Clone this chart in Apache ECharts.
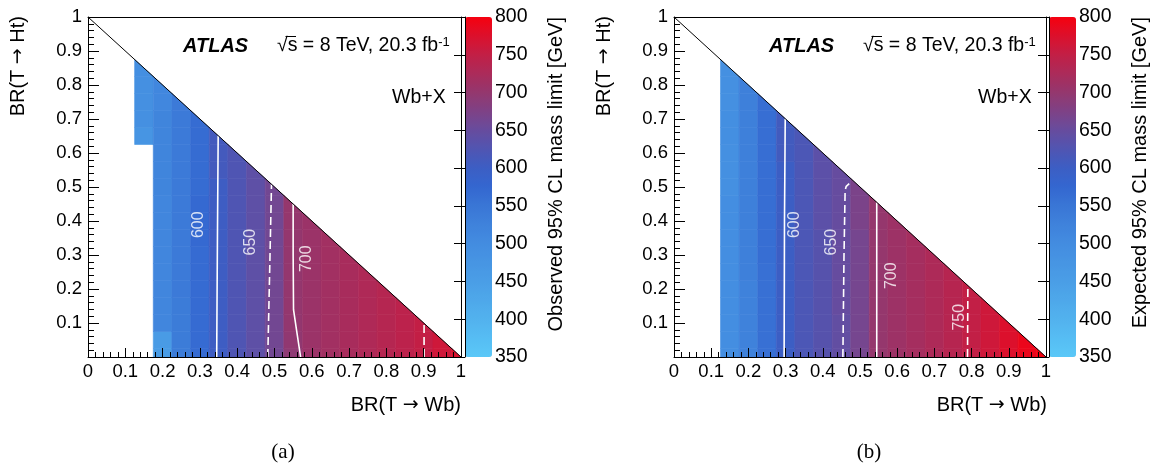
<!DOCTYPE html>
<html><head><meta charset="utf-8">
<script src="https://cdn.jsdelivr.net/npm/echarts@6/dist/echarts.min.js"></script>
<style>html,body{margin:0;padding:0;background:#fff}#c{width:1161px;height:468px}</style>
</head><body><div id="c"></div>
<script>
// ---------------- DATA ----------------
// cell centres (bins are 0.05 wide)
const xCenters = [0.15,0.20,0.25,0.30,0.35,0.40,0.45,0.50,0.55,0.60,0.65,0.70,0.75,0.80,0.85,0.90,0.95,1.00];
const yCenters = [0,0.05,0.10,0.15,0.20,0.25,0.30,0.35,0.40,0.45,0.50,0.55,0.60,0.65,0.70,0.75,0.80,0.85];
// observed limit [GeV], one list per x column, rows from BR(Ht)=0 upward; null = no result
const observedCols = [
  [null,null,null,null,null,null,null,null,null,null,null,null,null,475,488,490,490,492],
  [455,458,514,514,514,514,514,514,514,514,518,518,518,518,518,512,512],
  [538,538,538,538,542,542,542,542,542,542,542,542,542,542,542,542],
  [568,568,568,568,568,568,568,572,572,572,566,566,566,566,566],
  [602,602,602,602,602,602,602,602,602,602,602,610,610,610],
  [624,624,624,624,624,624,624,624,624,624,624,624,624],
  [640,640,640,640,640,640,640,640,640,640,640,640],
  [662,662,662,662,662,662,662,662,662,662,662],
  [694,697,699,700,700,700,700,700,701,701],
  [708,708,708,708,708,708,708,708,708],
  [715,715,715,715,715,715,715,715],
  [722,722,722,722,722,722,722],
  [729,729,729,729,729,729],
  [736,736,736,736,736],
  [743,743,743,743],
  [751,751,751],
  [762,762],
  [775]
];
// expected limit [GeV]
const expectedCols = [
  [494,494,494,494,494,494,494,494,494,494,490,490,490,492,492,488,488,488],
  [526,526,526,526,526,530,530,530,530,530,530,530,530,530,530,530,530],
  [560,560,560,560,560,560,564,564,564,564,564,564,564,564,564,564],
  [600,600,600,600,600,600,600,600,600,600,600,600,608,608,608],
  [620,620,620,620,620,620,620,620,620,620,620,620,620,620],
  [632,632,632,632,632,632,632,632,638,638,638,638,638],
  [645,645,645,649,649,649,649,649,649,649,649,649],
  [666,666,666,666,666,666,666,666,672,672,672],
  [701,701,701,701,701,701,701,701,701,701],
  [710,710,710,710,710,710,710,710,710],
  [719,719,719,719,719,719,719,719],
  [727,727,727,727,727,727,727],
  [737,737,737,737,737,737],
  [750,750,750,750,750],
  [762,762,762,762],
  [775,775,775],
  [790,790],
  [800]
];
// contour lines: [BR(Wb), BR(Ht)]
const obs600 = [[0.345,0.0],[0.347,0.35],[0.349,0.651]];
const obs650 = [[0.482,0.0],[0.487,0.25],[0.492,0.508]];
const obs700 = [[0.570,0.0],[0.559,0.08],[0.551,0.139],[0.550,0.30],[0.550,0.450]];
const obs750 = [[0.901,0.0],[0.901,0.099]];
const exp600 = [[0.296,0.0],[0.297,0.40],[0.299,0.701]];
const exp650 = [[0.454,0.0],[0.457,0.30],[0.460,0.490],[0.463,0.502],[0.471,0.510]];
const exp700 = [[0.545,0.0],[0.545,0.455]];
const exp750 = [[0.789,0.0],[0.790,0.210]];
// contour labels [x, y, text]
const obsContourLabels = [[0.296,0.389,600],[0.436,0.338,650],[0.586,0.289,700]];
const expContourLabels = [[0.325,0.389,600],[0.424,0.338,650],[0.585,0.239,700],[0.767,0.117,750]];
const diagonal = [[0,1],[1,0]];
const zRange = [350, 800];

// ---------------- CHART ----------------
const FONT = 'Liberation Sans, Arial, Helvetica, sans-serif';
const palette = ['#5ac8f8','#56bdf3','#52b2ee','#4ea8ea','#4a9ee6','#4795e3','#438ce0','#3f82db','#3a76d6',
                 '#3467d0','#3c5ec4','#5055b2','#674c9e','#7e4286','#94376e','#ab2b5a','#c21f46','#dc102c','#f5000f'];

function cellsOf(cols){
  const out=[];
  cols.forEach((col,k)=>col.forEach((v,j)=>{ if(v!=null) out.push([xCenters[k],yCenters[j],v]); }));
  return out;
}
function clipToTriangle(x0,x1,y0,y1){
  const pts=[[x0,y0],[x1,y0],[x1,y1],[x0,y1]], out=[];
  for(let i=0;i<4;i++){
    const a=pts[i], b=pts[(i+1)%4];
    const fa=a[0]+a[1]-1, fb=b[0]+b[1]-1;
    if(fa<=1e-12) out.push(a);
    if((fa<0&&fb>0)||(fa>0&&fb<0)){
      const t=fa/(fa-fb);
      out.push([a[0]+t*(b[0]-a[0]), a[1]+t*(b[1]-a[1])]);
    }
  }
  return out;
}
function renderCell(params, api){
  const xc=api.value(0), yc=api.value(1), h=0.025;
  const poly=clipToTriangle(Math.max(0,xc-h),Math.min(1,xc+h),Math.max(0,yc-h),Math.min(1,yc+h));
  if(poly.length<3) return null;
  const c=api.visual('color');
  return {type:'polygon', shape:{points:poly.map(p=>api.coord(p))}, style:{fill:c, stroke:c, lineWidth:0.6}};
}

const grids = [
  {left:88, top:17, width:373, height:340},
  {left:465, top:17, width:27, height:340},
  {left:674, top:17, width:372, height:340},
  {left:1049, top:17, width:27, height:340}
].map(g=>Object.assign({show:false, containLabel:false}, g));

function mainX(gi){
  return {type:'value', gridIndex:gi, min:0, max:1, interval:0.1, z:10,
    axisLine:{show:true, onZero:false, lineStyle:{color:'#000', width:1}},
    axisTick:{show:true, inside:true, length:9, lineStyle:{color:'#000', width:1}},
    minorTick:{show:true, splitNumber:5, length:5, lineStyle:{color:'#000', width:1}},
    splitLine:{show:false}, minorSplitLine:{show:false},
    axisLabel:{fontFamily:FONT, fontSize:18.5, color:'#000', margin:5,
      formatter:v=>String(+(+v).toFixed(1))}};
}
function mainY(gi){
  return {type:'value', gridIndex:gi, min:0, max:1, interval:0.1, z:10,
    axisLine:{show:true, onZero:false, lineStyle:{color:'#000', width:1}},
    axisTick:{show:true, inside:true, length:11, lineStyle:{color:'#000', width:1}},
    minorTick:{show:true, splitNumber:5, length:6, lineStyle:{color:'#000', width:1}},
    splitLine:{show:false}, minorSplitLine:{show:false},
    axisLabel:{fontFamily:FONT, fontSize:18.5, color:'#000', margin:6,
      formatter:v=>(Math.abs(v)<1e-9?'':String(+(+v).toFixed(1)))}};
}
function frameX(gi){ return {type:'value', gridIndex:gi, min:0, max:1, position:'top', z:10,
  axisLine:{show:true, onZero:false, lineStyle:{color:'#000', width:1}}, axisTick:{show:false}, axisLabel:{show:false}, splitLine:{show:false}}; }
function frameY(gi){ return {type:'value', gridIndex:gi, min:0, max:1, position:'right', z:10,
  axisLine:{show:true, onZero:false, lineStyle:{color:'#000', width:1}}, axisTick:{show:false}, axisLabel:{show:false}, splitLine:{show:false}}; }
function barX(gi){ return {type:'value', gridIndex:gi, min:0, max:1, show:false}; }
function barY(gi){ return {type:'value', gridIndex:gi, min:zRange[0], max:zRange[1], interval:50, position:'right', z:10,
  axisLine:{show:true, lineStyle:{color:'#000', width:1}},
  axisTick:{show:true, inside:true, length:11, lineStyle:{color:'#000', width:1}},
  splitLine:{show:false},
  axisLabel:{fontFamily:FONT, fontSize:19.5, color:'#000', margin:3}}; }

// xAxis indices: 0 a-main, 1 a-top frame, 2 a-bar, 3 b-main, 4 b-top, 5 b-bar
const xAxes = [mainX(0), frameX(0), barX(1), mainX(2), frameX(2), barX(3)];
const yAxes = [mainY(0), frameY(0), barY(1), mainY(2), frameY(2), barY(3)];

function contour(data, xi, yi, dashed){
  return {type:'line', xAxisIndex:xi, yAxisIndex:yi, data:data, symbol:'none', silent:true, z:4,
    lineStyle:{color:'#fff', width:1.6, type: dashed?[8,4]:'solid'}};
}
function labels(data, xi, yi){
  return {type:'scatter', xAxisIndex:xi, yAxisIndex:yi, data:data, symbolSize:1, silent:true, z:6,
    itemStyle:{color:'rgba(0,0,0,0)'},
    label:{show:true, position:'inside', rotate:90, color:'#fff', fontFamily:FONT, fontSize:16,
      formatter:p=>String(p.value[2])}};
}
function diag(xi, yi){
  return {type:'line', xAxisIndex:xi, yAxisIndex:yi, data:diagonal, symbol:'none', silent:true, z:5,
    lineStyle:{color:'#000', width:1}};
}

const series = [
  {type:'custom', name:'observed', xAxisIndex:0, yAxisIndex:0, renderItem:renderCell, data:cellsOf(observedCols), encode:{x:0,y:1}, silent:true, z:2},
  {type:'custom', name:'expected', xAxisIndex:3, yAxisIndex:3, renderItem:renderCell, data:cellsOf(expectedCols), encode:{x:0,y:1}, silent:true, z:2},
  contour(obs600,0,0,false), contour(obs650,0,0,true), contour(obs700,0,0,false), contour(obs750,0,0,true),
  contour(exp600,3,3,false), contour(exp650,3,3,true), contour(exp700,3,3,false), contour(exp750,3,3,true),
  diag(0,0), diag(3,3),
  labels(obsContourLabels,0,0), labels(expContourLabels,3,3)
];

function vm(seriesIndex, left){
  return {type:'continuous', min:zRange[0], max:zRange[1], dimension:2, seriesIndex:seriesIndex,
    calculable:false, hoverLink:false, orient:'vertical', left:left, top:17, itemWidth:27, itemHeight:340,
    padding:0, text:null, inRange:{color:palette}};
}

const ARROW = {a:{fontFamily:'DejaVu Sans', fontSize:19, fill:'#000'}};
function txt(x,y,text,opt){
  return Object.assign({type:'text', x:x, y:y, silent:true, z:100,
    style:Object.assign({text:text, fill:'#000', font:'19.5px '+FONT, align:'left', verticalAlign:'middle'}, opt&&opt.style||{})},
    opt&&opt.el||{});
}
const R = Math.PI/2;
function panelTexts(dx, zTitle, cbx, ytx, cap, capx){
  return [
    txt(ytx, 16, 'BR(T {a|\u2192} Ht)', {style:{align:'right', font:'20px '+FONT, rich:ARROW}, el:{rotation:R}}),
    txt(461+dx, 405, 'BR(T {a|\u2192} Wb)', {style:{align:'right', font:'20px '+FONT, rich:ARROW}}),
    txt(cbx, 17, zTitle, {style:{align:'right', font:'20px '+FONT}, el:{rotation:R}}),
    txt(183+dx, 46, 'ATLAS', {style:{font:'italic bold 20px '+FONT}}),
    {type:'text', x:277+dx, y:46, silent:true, z:100, style:{
      text:'\u221As = 8 TeV, 20.3 fb{sup|-1}', fill:'#000', font:'19.5px '+FONT, verticalAlign:'middle', align:'left',
      rich:{sup:{fontSize:13, fontFamily:FONT, verticalAlign:'top', fill:'#000'}}}},
    {type:'line', silent:true, z:100, shape:{x1:285.5+dx, y1:36.5, x2:296+dx, y2:36.5}, style:{stroke:'#000', lineWidth:1}},
    txt(392+dx, 98, 'Wb+X', {style:{font:'19.5px '+FONT}}),
    txt(capx, 452, cap, {style:{align:'center', font:'21px Liberation Serif, Times New Roman, serif'}})
  ];
}

const chart = echarts.init(document.getElementById('c'), null, {renderer:'canvas'});
chart.setOption({
  animation:false,
  backgroundColor:'#fff',
  grid:grids,
  xAxis:xAxes,
  yAxis:yAxes,
  visualMap:[vm(0,465), vm(1,1049)],
  series:series,
  graphic:[].concat(
    panelTexts(0, 'Observed 95% CL mass limit [GeV]', 556, 18, '(a)', 283),
    panelTexts(586, 'Expected 95% CL mass limit [GeV]', 1140, 604, '(b)', 869)
  )
});
</script></body></html>
